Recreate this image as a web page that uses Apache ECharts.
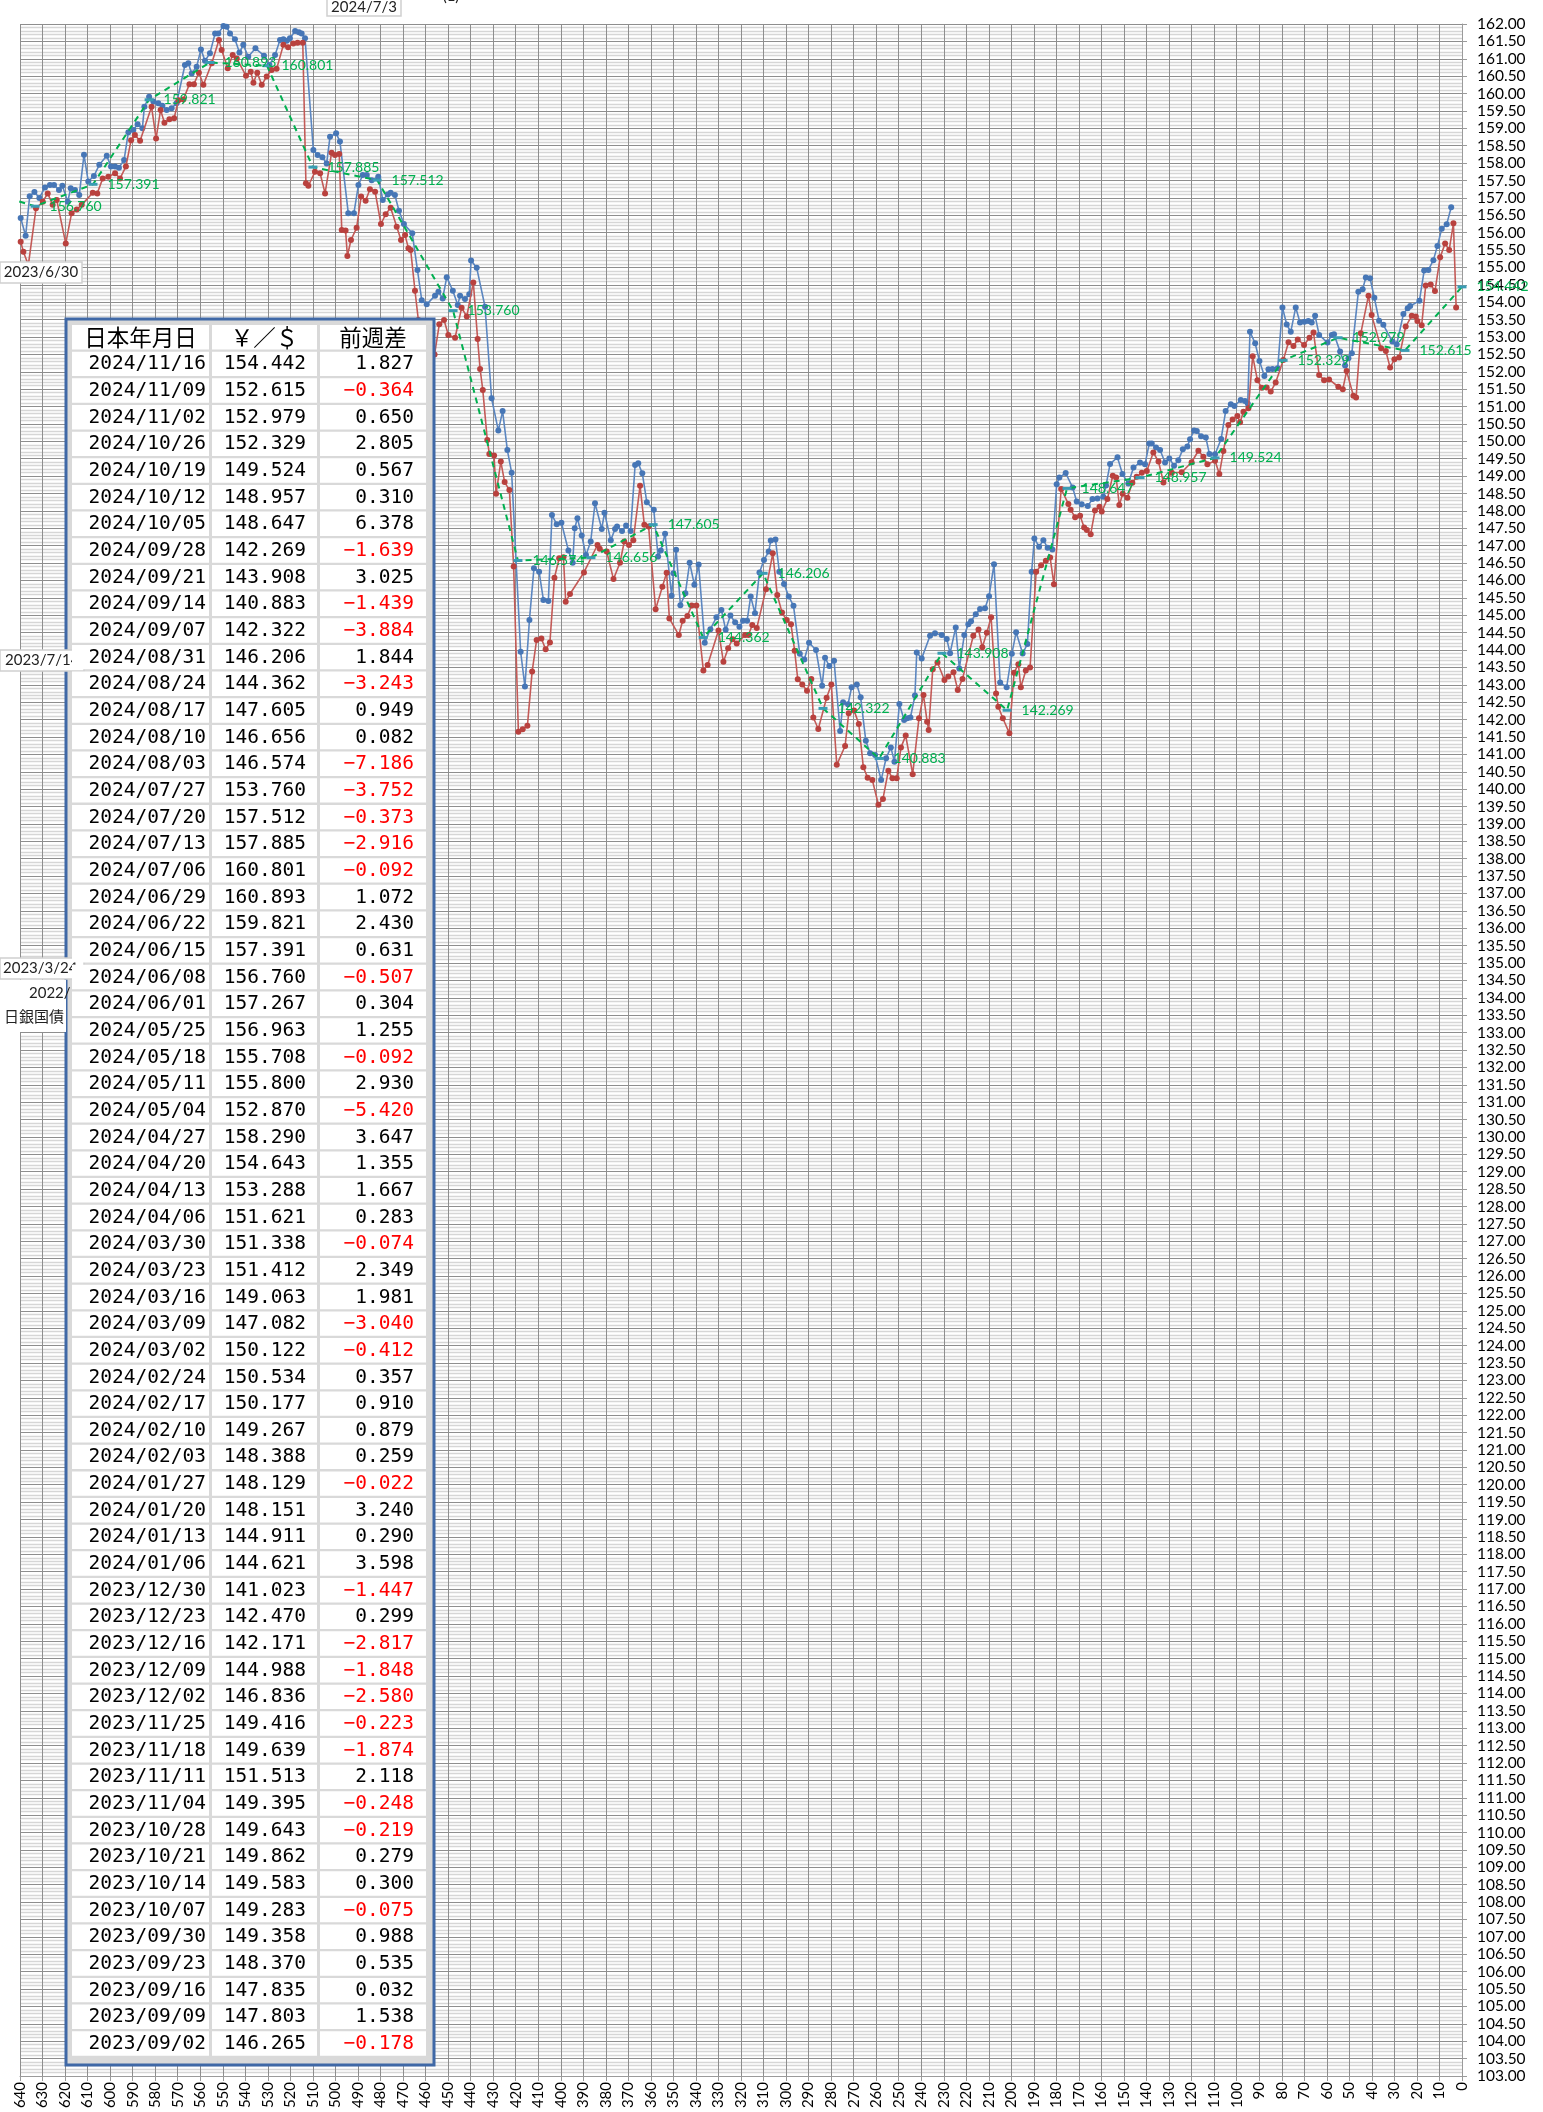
<!DOCTYPE html>
<html><head><meta charset="utf-8">
<script src="https://cdn.jsdelivr.net/npm/echarts@6/dist/echarts.min.js"></script>
<style>html,body{margin:0;padding:0;background:#fff}#c{width:1543px;height:2112px}</style>
</head><body><div id="c"></div>
<script>
// ---- daily series (x = position on reversed axis, y = yen per dollar) ----
const blueX = [639.7,637.5,635.7,633.6,631.4,628.9,626.7,624.9,622.7,621.2,618.8,617.5,615.6,613.7,611.6,609.7,607.2,604.8,601.5,599.6,597.8,596.1,593.8,591.9,589.7,587.8,585.7,584.8,582.7,580.8,578.6,576.8,574.9,572.7,570.5,566.8,565.3,563.8,561.6,559.7,557.9,555.7,553.4,552.0,549.7,548.3,546.8,544.6,542.6,540.9,538.7,535.5,531.7,529.3,526.8,524.6,523.1,521.6,520.2,517.9,516.2,515.0,513.5,509.8,507.9,505.8,503.9,502.4,499.7,498.0,494.3,491.8,489.8,487.9,486.1,483.9,481.0,479.0,476.8,475.5,473.6,471.8,469.6,465.9,463.6,461.7,459.5,455.8,454.3,452.4,450.6,447.9,445.7,444.7,442.5,440.6,439.8,437.3,433.6,430.7,427.7,425.8,423.7,421.8,417.8,415.9,413.9,411.9,409.6,407.7,405.5,403.9,401.8,399.7,396.6,394.7,393.8,392.6,390.7,388.8,386.7,384.8,381.8,380.6,377.8,375.9,375.0,372.8,371.0,369.0,367.0,365.6,363.8,361.8,358.7,356.8,355.6,353.7,350.8,350.0,348.8,346.9,344.7,342.8,340.7,338.8,336.1,333.6,330.9,328.7,326.8,324.7,322.6,320.7,319.1,317.3,315.7,313.8,311.8,309.8,307.7,306.8,304.7,303.0,300.9,298.8,296.7,293.9,291.9,289.8,286.7,284.0,282.7,280.8,278.7,276.0,274.7,272.5,270.9,268.6,266.9,264.6,262.7,260.5,257.8,255.6,253.5,251.9,249.7,247.6,246.2,244.8,242.8,242.0,239.8,236.1,233.9,230.9,228.7,227.2,224.7,223.1,220.9,219.1,217.9,215.8,213.9,211.7,209.9,207.7,205.0,202.1,199.8,197.9,195.0,192.9,191.0,189.8,187.7,185.8,183.9,181.8,179.9,178.7,175.9,172.8,171.0,168.8,166.1,164.0,161.8,159.2,158.0,156.2,152.9,150.7,148.1,145.8,142.9,140.7,138.8,137.7,135.8,134.0,131.8,129.9,127.8,125.9,123.9,121.9,120.7,118.9,117.7,115.8,113.7,112.1,109.6,106.9,104.9,102.6,101.0,98.2,96.3,95.1,94.1,91.8,89.9,87.7,85.9,84.1,81.8,79.7,77.8,76.0,73.8,71.9,70.0,68.2,66.7,65.2,63.4,59.7,57.8,56.8,54.1,51.9,50.4,48.9,46.0,44.1,42.7,40.8,38.9,36.8,34.9,30.9,29.0,26.0,24.1,23.0,18.9,16.8,14.9,12.7,10.9,9.0,6.8,4.8];
const blueY = [156.42,155.91,157.05,157.17,157.00,157.30,157.37,157.37,157.23,157.35,156.89,157.28,157.23,157.08,158.24,157.47,157.63,157.95,158.21,157.90,157.90,157.87,158.09,158.89,158.95,159.12,159.00,159.62,159.91,159.77,159.72,159.65,159.53,159.58,159.72,160.82,160.87,160.58,160.77,161.27,160.94,161.16,161.73,161.73,161.94,161.92,161.73,161.56,161.18,161.40,161.06,161.30,161.09,160.82,161.11,161.54,161.56,161.52,161.59,161.80,161.76,161.73,161.59,158.38,158.23,158.17,157.99,158.76,158.86,158.62,156.56,156.56,157.37,157.66,157.66,157.51,157.61,156.94,157.10,157.15,157.08,156.63,156.25,155.98,154.93,154.06,153.94,154.19,154.30,154.11,154.72,154.33,153.92,154.19,154.09,154.23,155.20,154.99,153.87,151.24,150.31,150.87,149.75,149.10,143.95,142.95,144.86,146.35,146.25,145.44,145.41,147.88,147.62,147.66,146.86,146.51,147.50,147.79,147.29,146.73,147.12,148.22,147.48,147.95,147.16,147.48,147.55,147.42,147.58,147.42,149.32,149.37,149.08,148.25,148.03,146.69,146.86,147.34,145.56,146.21,146.88,145.29,145.63,146.51,145.88,146.46,144.21,144.60,144.94,145.15,144.58,144.99,144.80,144.67,144.84,144.84,145.54,145.06,146.23,146.59,146.83,147.15,147.18,146.25,145.90,145.54,145.27,143.89,143.73,144.21,144.00,142.97,143.78,143.54,143.69,141.67,142.50,142.44,142.93,143.01,142.64,141.39,141.03,140.98,140.26,140.89,141.20,140.79,142.45,141.99,142.04,142.06,142.69,143.93,143.76,144.41,144.48,144.43,144.32,143.91,144.65,143.47,144.43,144.74,144.83,145.03,145.18,145.20,145.55,146.47,143.07,142.93,143.89,144.51,143.90,144.17,146.25,147.21,146.97,147.16,146.94,146.89,148.77,148.96,149.09,148.67,148.27,148.19,148.14,148.34,148.36,148.41,148.73,149.35,149.54,149.06,148.79,149.25,149.39,149.34,149.94,149.94,149.82,149.75,149.39,149.51,149.30,149.46,149.77,149.85,150.06,150.31,150.30,150.15,150.11,149.64,149.63,150.07,150.87,151.07,151.02,151.19,151.16,151.09,153.15,152.82,152.31,151.88,152.07,152.08,152.10,153.85,153.36,153.15,153.85,153.42,153.44,153.46,153.42,153.61,153.06,152.84,153.06,153.08,152.58,152.18,152.39,152.53,154.30,154.37,154.71,154.69,154.13,153.47,153.35,152.87,152.79,153.66,153.83,153.89,154.04,154.91,154.93,155.21,155.62,156.11,156.24,156.73];

const redX = [639.7,638.5,636.3,632.9,629.9,627.7,625.5,623.7,619.7,617.1,614.8,612.6,607.7,605.7,603.3,600.8,597.8,595.6,593.0,590.7,589.0,586.7,581.6,579.6,577.6,575.9,573.7,571.6,569.7,567.5,564.8,562.8,560.6,558.6,554.9,551.7,550.5,547.8,545.6,543.8,539.7,537.6,536.4,534.7,532.7,530.5,528.3,526.1,523.1,521.0,518.7,516.8,514.5,513.1,512.0,509.1,506.8,504.6,501.7,500.2,498.3,497.2,495.5,494.7,493.1,490.6,488.6,486.6,484.7,482.4,479.8,477.7,475.5,472.8,470.9,469.1,467.6,466.6,464.7,463.2,461.0,458.5,456.0,453.9,451.8,449.9,446.9,444.0,441.7,438.8,436.9,435.8,434.6,432.6,431.7,429.6,428.7,426.6,424.9,422.8,420.9,418.8,416.9,414.8,412.7,410.7,408.6,406.7,404.8,402.8,400.7,398.8,397.8,395.9,389.7,383.7,382.7,379.6,376.6,373.7,371.8,369.7,367.8,364.8,362.9,361.0,357.9,354.9,353.0,351.8,347.6,345.9,343.8,341.9,339.8,336.7,334.8,330.0,327.8,325.7,323.8,321.9,318.2,316.7,315.0,313.0,308.9,305.9,303.9,301.8,299.7,297.8,296.2,294.8,292.8,290.7,288.8,287.9,285.7,282.0,279.9,277.5,273.8,272.2,269.8,267.7,265.7,263.8,261.7,259.0,257.0,254.6,252.8,250.9,249.0,246.9,243.8,241.0,239.0,237.4,236.7,234.9,232.8,229.7,228.0,225.7,223.8,221.7,216.9,214.6,212.9,210.9,209.0,206.8,205.8,203.8,200.9,198.8,196.9,195.8,193.6,191.7,189.0,186.8,184.7,182.8,181.1,177.9,174.7,173.7,171.7,169.5,167.7,166.5,164.8,162.9,160.9,159.9,157.4,155.0,153.5,152.1,150.6,148.5,146.3,144.4,142.1,139.9,137.0,134.7,132.5,128.8,124.4,120.0,117.0,114.8,113.0,109.6,107.7,105.9,103.7,101.8,99.7,98.5,97.0,94.8,92.9,90.8,88.9,86.7,84.9,82.7,79.3,77.0,74.8,72.9,70.1,67.7,65.9,63.4,61.2,59.0,54.9,52.9,51.2,48.2,47.0,44.9,41.5,40.1,35.9,33.8,31.9,30.0,27.9,25.0,22.3,20.5,19.8,17.9,16.1,13.9,12.0,9.7,7.5,5.7,3.8,2.6];
const redY = [155.74,155.45,155.07,156.70,156.89,157.13,156.80,156.94,155.69,156.56,156.67,156.80,157.15,157.13,157.56,157.61,157.71,157.56,157.90,158.66,158.81,158.64,159.62,158.71,159.53,159.16,159.26,159.29,159.81,159.83,160.27,160.27,160.60,160.25,160.87,161.54,161.25,160.73,161.11,161.01,160.51,160.63,160.31,160.60,160.25,160.49,160.68,160.71,161.40,161.33,161.44,161.46,161.46,157.42,157.35,157.75,157.71,157.13,158.30,158.23,158.26,156.08,156.06,155.33,155.79,156.14,157.04,156.92,157.25,157.18,156.25,156.53,156.72,156.17,155.79,155.93,155.55,155.50,154.33,153.49,152.60,152.10,152.50,153.37,153.49,153.06,152.98,153.84,153.59,154.57,152.94,152.08,151.48,150.04,149.64,149.59,148.49,149.42,148.83,148.60,146.40,141.65,141.72,141.82,143.38,144.29,144.33,144.02,144.22,146.08,146.64,146.67,145.39,145.61,146.23,147.02,146.91,146.83,146.04,146.51,147.12,147.02,147.16,148.72,147.60,147.55,145.17,145.82,146.22,144.91,144.43,144.84,144.98,145.28,145.28,143.41,143.57,144.56,143.66,144.05,144.31,144.19,144.43,144.43,144.72,144.63,145.75,146.78,145.58,145.08,144.86,144.74,143.98,143.16,143.01,142.83,143.17,142.06,141.73,142.63,143.01,140.70,141.24,142.18,142.26,141.87,140.63,140.33,140.26,139.55,139.72,140.53,140.31,140.31,141.20,141.54,140.43,142.04,142.71,141.94,141.70,143.45,143.64,143.14,143.24,143.36,142.85,143.17,144.41,144.59,144.08,144.50,144.94,142.75,142.37,142.04,141.61,143.35,143.59,142.93,143.41,143.50,146.25,146.44,146.57,146.66,145.89,148.63,148.20,148.03,147.82,147.86,147.52,147.45,147.33,148.01,148.12,147.98,148.34,149.01,148.96,148.17,148.49,148.38,148.81,148.98,149.10,149.15,149.68,149.42,148.82,149.10,149.11,149.40,149.73,149.56,149.34,149.44,149.06,149.72,150.47,150.63,150.73,150.55,150.85,150.95,152.45,151.76,151.54,151.55,151.43,151.69,152.34,152.85,152.74,152.93,152.77,152.98,153.13,151.91,151.76,151.78,151.57,151.50,152.02,151.31,151.26,153.11,154.19,153.63,152.68,152.60,152.12,152.36,152.41,153.30,153.61,153.59,153.46,153.34,154.48,154.51,154.32,155.29,155.69,155.50,156.27,153.85];

// ---- weekly table ----
const tableDates = ["2024/11/16","2024/11/09","2024/11/02","2024/10/26","2024/10/19","2024/10/12","2024/10/05","2024/09/28","2024/09/21","2024/09/14","2024/09/07","2024/08/31","2024/08/24","2024/08/17","2024/08/10","2024/08/03","2024/07/27","2024/07/20","2024/07/13","2024/07/06","2024/06/29","2024/06/22","2024/06/15","2024/06/08","2024/06/01","2024/05/25","2024/05/18","2024/05/11","2024/05/04","2024/04/27","2024/04/20","2024/04/13","2024/04/06","2024/03/30","2024/03/23","2024/03/16","2024/03/09","2024/03/02","2024/02/24","2024/02/17","2024/02/10","2024/02/03","2024/01/27","2024/01/20","2024/01/13","2024/01/06","2023/12/30","2023/12/23","2023/12/16","2023/12/09","2023/12/02","2023/11/25","2023/11/18","2023/11/11","2023/11/04","2023/10/28","2023/10/21","2023/10/14","2023/10/07","2023/09/30","2023/09/23","2023/09/16","2023/09/09","2023/09/02"];
const tableRates = [154.442,152.615,152.979,152.329,149.524,148.957,148.647,142.269,143.908,140.883,142.322,146.206,144.362,147.605,146.656,146.574,153.760,157.512,157.885,160.801,160.893,159.821,157.391,156.760,157.267,156.963,155.708,155.800,152.870,158.290,154.643,153.288,151.621,151.338,151.412,149.063,147.082,150.122,150.534,150.177,149.267,148.388,148.129,148.151,144.911,144.621,141.023,142.470,142.171,144.988,146.836,149.416,149.639,151.513,149.395,149.643,149.862,149.583,149.283,149.358,148.370,147.835,147.803,146.265];
const tableDiffs = [1.827,-0.364,0.650,2.805,0.567,0.310,6.378,-1.639,3.025,-1.439,-3.884,1.844,-3.243,0.949,0.082,-7.186,-3.752,-0.373,-2.916,-0.092,1.072,2.430,0.631,-0.507,0.304,1.255,-0.092,2.930,-5.420,3.647,1.355,1.667,0.283,-0.074,2.349,1.981,-3.040,-0.412,0.357,0.910,0.879,0.259,-0.022,3.240,0.290,3.598,-1.447,0.299,-2.817,-1.848,-2.580,-0.223,-1.874,2.118,-0.248,-0.219,0.279,0.300,-0.075,0.988,0.535,0.032,1.538,-0.178];
const tableHeader = ["日本年月日","￥／＄","前週差"];

// weekly closes plotted as the dashed line: 2024/06/01 .. 2024/11/16
const weekX = [659,633.3,607.6,582.7,555.7,530.4,510.0,481.5,447.8,419.0,386.6,359.0,336.8,310.2,283.6,258.7,230.8,201.9,175.3,142.9,109.6,79.4,55.0,25.3,0];
const weekVal = tableRates.slice(0, weekX.length).reverse();

// axis ticks
const xMin = 0, xMax = 640, xStep = 10;
const yMin = 103, yMax = 162, yStep = 0.5;

// ---------------- build ----------------
const chart = echarts.init(document.getElementById('c'), null, {renderer:'canvas'});

const graphics = [];
// table frame
const tX = 66, tY = 319, tW = 368, tH = 1746;
graphics.push({type:'rect', z:100, shape:{x:tX, y:tY, width:tW, height:tH},
  style:{fill:'#d9d9d9', stroke:'#3f68a6', lineWidth:3}});
const cols = [[72,209],[212,317],[320,426]];
const rowPitch = 26.66, rowTop0 = 325, cellH = 24.4;
const tFont = '19.5px "DejaVu Sans Mono", monospace';
const hFont = '22.5px "Noto Sans CJK JP", sans-serif';
const nRows = tableDates.length + 1;
for (let r = 0; r < nRows; r++) {
  const top = rowTop0 + r * rowPitch;
  cols.forEach(c => graphics.push({type:'rect', z:101, shape:{x:c[0], y:top, width:c[1]-c[0], height:cellH}, style:{fill:'#ffffff'}}));
  const cy = top + cellH/2 + 0.5;
  if (r === 0) {
    tableHeader.forEach((h, i) => graphics.push({type:'text', z:102, x:(cols[i][0]+cols[i][1])/2, y:cy,
      style:{text:h, font:hFont, fill:'#000', align:'center', verticalAlign:'middle', textAlign:'center', textVerticalAlign:'middle'}}));
  } else {
    const k = r - 1;
    const d = tableDiffs[k];
    const dTxt = (d < 0 ? '\u2212' : '') + Math.abs(d).toFixed(3);
    const cells = [[tableDates[k], 206, '#000'], [tableRates[k].toFixed(3), 306, '#000'], [dTxt, 414, d < 0 ? '#ff0000' : '#000']];
    cells.forEach(c => graphics.push({type:'text', z:102, x:c[1], y:cy,
      style:{text:c[0], font:tFont, fill:c[2], align:'right', verticalAlign:'middle', textAlign:'right', textVerticalAlign:'middle'}}));
  }
}
// annotation boxes
const noteFont = '15px Lato, sans-serif';
function box(x, y, w, h) {
  graphics.push({type:'rect', z:100, shape:{x:x, y:y, width:w, height:h}, style:{fill:'#fff', stroke:'#d0d0d0', lineWidth:1.5}});
}
function note(t, x, y, align, font) {
  graphics.push({type:'text', z:100, x:x, y:y, style:{text:t, font:font || noteFont, fill:'#222', align:align, verticalAlign:'middle', textAlign:align, textVerticalAlign:'middle'}});
}
box(327, -4, 74, 20); note('2024/7/3', 364, 7, 'center');
note('(1)', 451, -4, 'center');
box(0, 262, 82, 21); note('2023/6/30', 41, 272.5, 'center');
box(0, 650, 84, 21); note('2023/7/14', 5, 660.5, 'left');
box(0, 958, 84, 21); note('2023/3/24', 3, 968.5, 'left');
graphics.push({type:'rect', z:100, shape:{x:0, y:980, width:66, height:52}, style:{fill:'#fff'}});
note('2022/', 29, 993, 'left');
note('日銀国債', 4, 1016, 'left', '15px "Noto Sans CJK JP", sans-serif');

const option = {
  animation: false,
  backgroundColor: '#ffffff',
  grid: {left:20, right:81, top:24, bottom:36, containLabel:false},
  xAxis: {
    type:'value', inverse:true, min:xMin, max:xMax, interval:xStep,
    axisLine:{show:true, onZero:false, lineStyle:{color:'#9a9a9a', width:1}},
    axisTick:{show:true, length:5, lineStyle:{color:'#9a9a9a'}},
    axisLabel:{rotate:90, fontSize:15, fontFamily:'Lato', color:'#000', margin:6, showMinLabel:true, showMaxLabel:true},
    splitLine:{show:true, lineStyle:{color:'#8e8e8e', width:1}}
  },
  yAxis: {
    type:'value', position:'right', min:yMin, max:yMax, interval:yStep, scale:false,
    axisLine:{show:true, lineStyle:{color:'#9a9a9a', width:1}},
    axisTick:{show:true, length:5, lineStyle:{color:'#9a9a9a'}},
    axisLabel:{formatter: v => Number(v).toFixed(2), fontSize:15.5, fontFamily:'Lato', color:'#000', margin:15, showMinLabel:true, showMaxLabel:true},
    splitLine:{show:true, lineStyle:{color:'#8e8e8e', width:1}},
    minorTick:{show:false, splitNumber:5},
    minorSplitLine:{show:true, lineStyle:{color:'#d6d6d6', width:1.4}}
  },
  series: [
    {type:'line', name:'blue', data: blueX.map((x,i)=>[x, blueY[i]]), symbol:'circle', symbolSize:6, showAllSymbol:true,
      itemStyle:{color:'#4676b6'}, lineStyle:{color:'#5b86c0', width:1.6}, clip:true, z:3, emphasis:{disabled:true}},
    {type:'line', name:'red', data: redX.map((x,i)=>[x, redY[i]]), symbol:'circle', symbolSize:6, showAllSymbol:true,
      itemStyle:{color:'#b9413e'}, lineStyle:{color:'#c35a57', width:1.6}, clip:true, z:4, emphasis:{disabled:true}},
    {type:'line', name:'week', data: weekX.map((x,i)=>({value:[x, weekVal[i]], label:{show: x <= xMax}})),
      symbol:'rect', symbolSize:[9,3], showAllSymbol:true,
      itemStyle:{color:'#3a9cb4'}, lineStyle:{color:'#00b050', width:2, type:[6,5]},
      label:{show:true, position:'right', distance:10, color:'#00b050', fontSize:14, fontFamily:'Lato',
        formatter: p => p.value[1].toFixed(3)},
      clip:true, z:5, emphasis:{disabled:true}}
  ],
  graphic: {elements: graphics}
};
chart.setOption(option);
</script></body></html>
